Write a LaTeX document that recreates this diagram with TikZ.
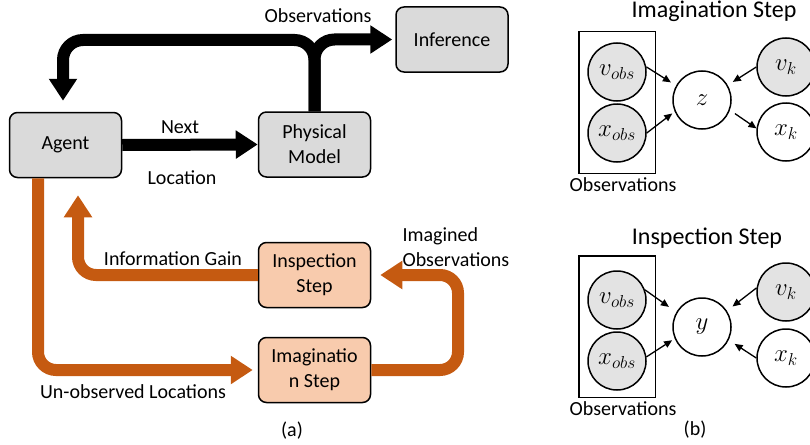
\documentclass[tikz,border=0pt]{standalone}
\usepackage{fontspec}
\setmainfont{Carlito}
\usetikzlibrary{arrows.meta,fit}

\definecolor{rust}{HTML}{C55A11}
\definecolor{peach}{HTML}{F8CBAD}
\definecolor{boxgray}{HTML}{DADADA}
\definecolor{nodegray}{HTML}{E3E3E3}

\begin{document}
\begin{tikzpicture}[x=1pt,y=-1pt,
		font=\fontsize{20}{25}\selectfont,
		block/.style={draw,line width=1.5pt,rounded corners=8pt,minimum width=112pt,minimum height=65pt,align=center,inner sep=2pt},
		grayblock/.style={block,fill=boxgray},
		orangeblock/.style={block,fill=peach},
		flow/.style={line width=12pt,-{Triangle[width=27pt,length=22pt]}},
		blackflow/.style={flow,draw=black,rounded corners=20pt},
		rustflow/.style={flow,draw=rust,rounded corners=18pt},
		hidden/.style={circle,draw,line width=1.5pt,minimum size=58pt,inner sep=0pt,font=\fontsize{25}{30}\selectfont},
		seen/.style={hidden,fill=nodegray},
		plate/.style={draw,line width=1.5pt,inner xsep=8.5pt,inner ysep=10.5pt},
		edge/.style={line width=1.3pt,-{Triangle[width=7pt,length=8pt]}},
		title/.style={anchor=base,font=\fontsize{24}{28}\selectfont}
	]
		\useasboundingbox (0,0) rectangle (810,444);
		
		% (a) loop between agent and model
		\node[grayblock] (agent) at (65.5,145) {Agent};
		\node[grayblock] (phys) at (314.5,144.5) {Physical\\Model};
		\node[grayblock] (infer) at (452,39.5) {Inference};
		\node[orangeblock] (insp) at (314.5,275) {Inspection\\Step};
		\node[orangeblock] (imag) at (314.5,370) {Imaginatio\\n Step};
		
		\coordinate (turn) at (63,40);
		\draw[blackflow] (agent.east) -- (phys.west);
		\draw[blackflow,shorten >=11pt] (phys.north) |- (turn) -- (turn |- agent.north);
		\draw[blackflow,shorten >=3pt] (phys.north) |- (infer.west);
		\node[anchor=base] (next) at (180,133) {Next};
		\node[anchor=base] (loc) at (182,184) {Location};
		\node[anchor=base] (obs) at (318,23) {Observations};
		
		\coordinate (back) at (458,370);
		\draw[rustflow,shorten >=5pt] ([xshift=-27.5pt]agent.south) |- (imag.west);
		\draw[rustflow,shorten >=17pt] (insp.west) -| ([xshift=12.5pt]agent.south);
		\draw[rustflow,shorten >=9pt] (imag.east) -- (back) |- (insp.east);
		\node[anchor=base] (gain) at (173,265) {Information Gain};
		\node[anchor=west,align=left] (imobs) at (399,247) {Imagined\\Observations};
		\node[anchor=base] (unobs) at (133,398) {Un-observed Locations};
		\node (cap a) at (292,431) {(a)};
		
		% (b) imagination step
		\node[title] (t1) at (714,18) {Imagination Step};
		\node[seen] (vobs1) at (617,72) {$v_{obs}$};
		\node[seen] (xobs1) at (617,133) {$x_{obs}$};
		\node[hidden] (z) at (702,100) {$z$};
		\node[seen] (vk1) at (786,67) {$v_k$};
		\node[hidden] (xk1) at (786,132) {$x_k$};
		\node[plate,fit=(vobs1)(xobs1)] (plate1) {};
		\node[anchor=base] (lbl1) at (623,191) {Observations};
		\draw[edge,shorten >=6pt] (vobs1.10) -- (z.151);
		\draw[edge,shorten >=3pt] (xobs1.east) -- (z.203);
		\draw[edge,shorten >=6pt] (vk1.west) -- (z.30);
		\draw[edge,shorten <=6pt] (z.-20) -- (xk1.173);
		
		% (b) inspection step
		\node[title] (t2) at (707,244) {Inspection Step};
		\node[seen] (vobs2) at (617,300) {$v_{obs}$};
		\node[seen] (xobs2) at (617,361) {$x_{obs}$};
		\node[hidden] (y) at (702,327) {$y$};
		\node[seen] (vk2) at (786,292) {$v_k$};
		\node[hidden] (xk2) at (786,358) {$x_k$};
		\node[plate,fit=(vobs2)(xobs2),yshift=4pt] (plate2) {};
		\node[anchor=base] (lbl2) at (623,415) {Observations};
		\draw[edge,shorten >=9pt] (vobs2.20) -- (y.150);
		\draw[edge,shorten >=3pt] (xobs2.8) -- (y.203);
		\draw[edge,shorten >=7pt] (vk2.172) -- (y.33);
		\draw[edge,shorten >=7pt] (xk2.west) -- (y.-26);
		\node (cap b) at (695,430) {(b)};
	\end{tikzpicture}
\end{document}
